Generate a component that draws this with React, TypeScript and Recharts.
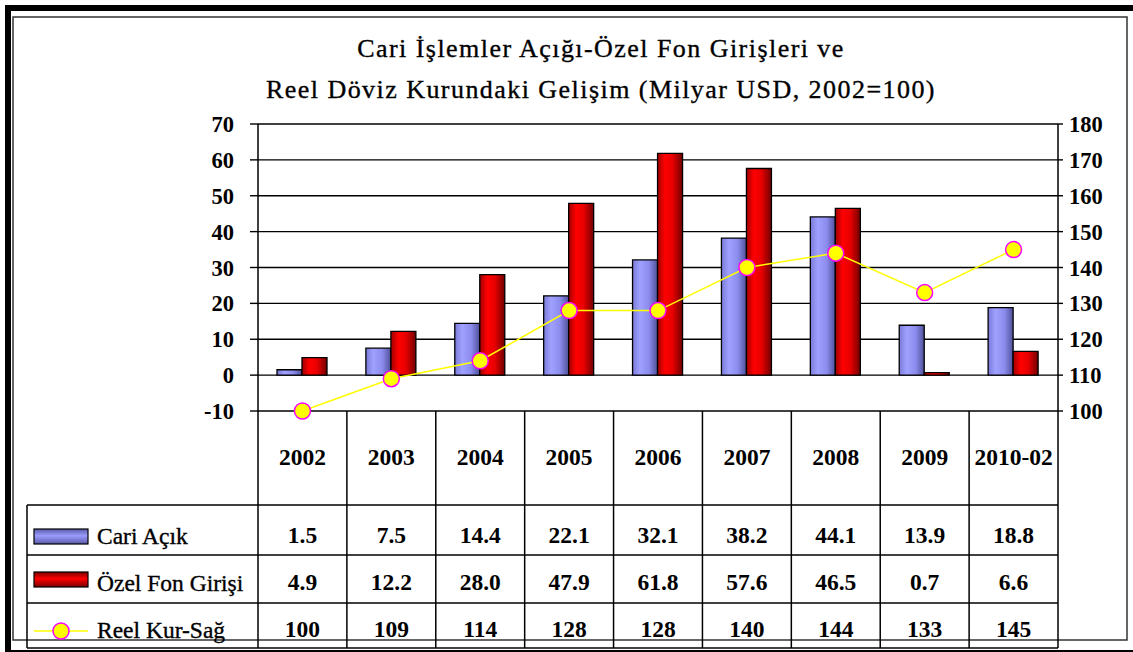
import React from 'react';
import { ComposedChart, Bar, Line, XAxis, YAxis, CartesianGrid } from 'recharts';

const categories = ['2002', '2003', '2004', '2005', '2006', '2007', '2008', '2009', '2010-02'];
const cariAcik = [1.5, 7.5, 14.4, 22.1, 32.1, 38.2, 44.1, 13.9, 18.8];
const ozelFon = [4.9, 12.2, 28.0, 47.9, 61.8, 57.6, 46.5, 0.7, 6.6];
const reelKur = [100, 109, 114, 128, 128, 140, 144, 133, 145];
const leftTicks = [-10, 0, 10, 20, 30, 40, 50, 60, 70];
const rightTicks = [100, 110, 120, 130, 140, 150, 160, 170, 180];
const seriesNames = ['Cari Açık', 'Özel Fon Girişi', 'Reel Kur-Sağ'];
const titleLines = ['Cari İşlemler Açığı-Özel Fon Girişleri ve', 'Reel Döviz Kurundaki Gelişim (Milyar USD, 2002=100)'];

const W = 1133;
const H = 652;
const PLOT = { left: 258, right: 1058, top: 124, bottom: 411 };
const AXIS_W = 60;
const XAXIS_H = 94;
const TABLE_LEFT = 27;
const ROW_LINES = [505, 555, 603, 648];
const ROW_BASELINES = [543, 590, 637];
const FONT = 'Liberation Serif, Times New Roman, serif';

const data = categories.map((c, i) => ({ cat: c, cari: cariAcik[i], ozel: ozelFon[i], reel: reelKur[i] }));

const CatTick = (props: any) => {
  const { x, y, payload } = props;
  return (
    <text x={x} y={y} textAnchor="middle" fontFamily={FONT} fontWeight="bold" fontSize={23.5} fill="#000">
      {payload.value}
    </text>
  );
};

const LeftTick = (props: any) => {
  const { x, y, payload } = props;
  return (
    <text x={x} y={y} dy={8} textAnchor="end" fontFamily={FONT} fontWeight="bold" fontSize={22.5} fill="#000">
      {payload.value}
    </text>
  );
};

const RightTick = (props: any) => {
  const { x, y, payload } = props;
  return (
    <text x={x} y={y} dy={8} textAnchor="start" fontFamily={FONT} fontWeight="bold" fontSize={22.5} fill="#000">
      {payload.value}
    </text>
  );
};

const Overlay = () => {
  const n = categories.length;
  const colW = (PLOT.right - PLOT.left) / n;
  const colX = Array.from({ length: n + 1 }, (_, i) => PLOT.left + i * colW);
  const rows = [
    cariAcik.map((v) => v.toFixed(1)),
    ozelFon.map((v) => v.toFixed(1)),
    reelKur.map((v) => String(v)),
  ];
  return (
    <svg width={W} height={H} style={{ position: 'absolute', left: 0, top: 0, pointerEvents: 'none' }}>
      <defs>
        <linearGradient id="legBlue" x1="0" y1="0" x2="0" y2="1">
          <stop offset="0%" stopColor="#5a5aa8" />
          <stop offset="45%" stopColor="#9b9bff" />
          <stop offset="100%" stopColor="#5a5aa8" />
        </linearGradient>
        <linearGradient id="legRed" x1="0" y1="0" x2="0" y2="1">
          <stop offset="0%" stopColor="#7a0000" />
          <stop offset="45%" stopColor="#ff0000" />
          <stop offset="100%" stopColor="#7a0000" />
        </linearGradient>
      </defs>
      <rect x={5} y={5} width={W - 5} height={6} fill="#000" />
      <rect x={5} y={5} width={6} height={H - 5} fill="#000" />
      <rect x={5} y={650} width={W - 5} height={2} fill="#000" />
      <rect x={13} y={17} width={1114} height={623} fill="none" stroke="#333" strokeWidth={1.5} />
      {titleLines.map((t, i) => (
        <text
          key={i}
          x={601}
          y={57 + i * 41}
          textAnchor="middle"
          fontFamily={FONT}
          fontSize={26}
          letterSpacing={1.45}
          fill="#000"
          stroke="#000"
          strokeWidth={0.35}
        >
          {t}
        </text>
      ))}
      {colX.map((x, i) => (
        <line key={'v' + i} x1={x} x2={x} y1={PLOT.bottom} y2={ROW_LINES[3]} stroke="#000" strokeWidth={1.5} />
      ))}
      <line x1={TABLE_LEFT} x2={TABLE_LEFT} y1={ROW_LINES[0]} y2={ROW_LINES[3]} stroke="#000" strokeWidth={1.5} />
      {ROW_LINES.map((y, i) => (
        <line key={'h' + i} x1={TABLE_LEFT} x2={PLOT.right} y1={y} y2={y} stroke="#000" strokeWidth={1.5} />
      ))}
      <rect x={34} y={529} width={54} height={15} fill="url(#legBlue)" stroke="#000" strokeWidth={1.2} />
      <rect x={34} y={572} width={54} height={15} fill="url(#legRed)" stroke="#000" strokeWidth={1.2} />
      <line x1={34} x2={88} y1={631} y2={631} stroke="#ffff00" strokeWidth={1.5} />
      <circle cx={61} cy={631} r={8} fill="#ffff00" stroke="#ff00ff" strokeWidth={1.5} />
      {seriesNames.map((s, i) => (
        <text
          key={'s' + i}
          x={97}
          y={ROW_BASELINES[i] + 1}
          fontFamily={FONT}
          fontSize={23.5}
          fill="#000"
          stroke="#000"
          strokeWidth={0.35}
        >
          {s}
        </text>
      ))}
      {rows.map((r, ri) =>
        r.map((v, ci) => (
          <text
            key={ri + '-' + ci}
            x={(colX[ci] + colX[ci + 1]) / 2}
            y={ROW_BASELINES[ri]}
            textAnchor="middle"
            fontFamily={FONT}
            fontWeight="bold"
            fontSize={23.5}
            fill="#000"
          >
            {v}
          </text>
        ))
      )}
    </svg>
  );
};

export default function App() {
  return (
    <div style={{ position: 'absolute', left: 0, top: 0, width: W, height: H, background: '#fff', fontFamily: FONT }}>
      <ComposedChart
        width={W}
        height={H}
        data={data}
        margin={{
          top: PLOT.top,
          bottom: H - PLOT.bottom - XAXIS_H,
          left: PLOT.left - AXIS_W,
          right: W - PLOT.right - AXIS_W,
        }}
        barGap={0}
      >
        <defs>
          <linearGradient id="barBlue" x1="0" y1="0" x2="1" y2="0">
            <stop offset="0%" stopColor="#7a7ad8" />
            <stop offset="30%" stopColor="#a0a0ff" />
            <stop offset="65%" stopColor="#8c8cee" />
            <stop offset="100%" stopColor="#50509a" />
          </linearGradient>
          <linearGradient id="barRed" x1="0" y1="0" x2="1" y2="0">
            <stop offset="0%" stopColor="#a00000" />
            <stop offset="30%" stopColor="#ff0000" />
            <stop offset="60%" stopColor="#e80000" />
            <stop offset="100%" stopColor="#700000" />
          </linearGradient>
        </defs>
        <CartesianGrid yAxisId="left" vertical={false} stroke="#000" strokeWidth={1.4} />
        <XAxis
          dataKey="cat"
          height={XAXIS_H}
          axisLine={false}
          tickLine={false}
          tickSize={0}
          tickMargin={54}
          interval={0}
          tick={<CatTick />}
        />
        <YAxis
          yAxisId="left"
          width={AXIS_W}
          domain={[-10, 70]}
          ticks={leftTicks}
          interval={0}
          axisLine={{ stroke: '#000', strokeWidth: 1.5 }}
          tickLine={{ stroke: '#000', strokeWidth: 1.4 }}
          tickSize={8}
          tickMargin={16}
          tick={<LeftTick />}
        />
        <YAxis
          yAxisId="right"
          orientation="right"
          width={AXIS_W}
          domain={[100, 180]}
          ticks={rightTicks}
          interval={0}
          axisLine={{ stroke: '#000', strokeWidth: 1.5 }}
          tickLine={{ stroke: '#000', strokeWidth: 1.4 }}
          tickSize={5}
          tickMargin={6}
          tick={<RightTick />}
        />
        <Bar yAxisId="left" dataKey="cari" name={seriesNames[0]} barSize={25} fill="url(#barBlue)" stroke="#000" strokeWidth={1.3} isAnimationActive={false} />
        <Bar yAxisId="left" dataKey="ozel" name={seriesNames[1]} barSize={25} fill="url(#barRed)" stroke="#000" strokeWidth={1.3} isAnimationActive={false} />
        <Line
          yAxisId="right"
          dataKey="reel"
          name={seriesNames[2]}
          type="linear"
          stroke="#ffff00"
          strokeWidth={1.5}
          dot={{ r: 8, fill: '#ffff00', stroke: '#ff00ff', strokeWidth: 1.5, clipDot: false }}
          activeDot={false}
          isAnimationActive={false}
        />
      </ComposedChart>
      <Overlay />
    </div>
  );
}
